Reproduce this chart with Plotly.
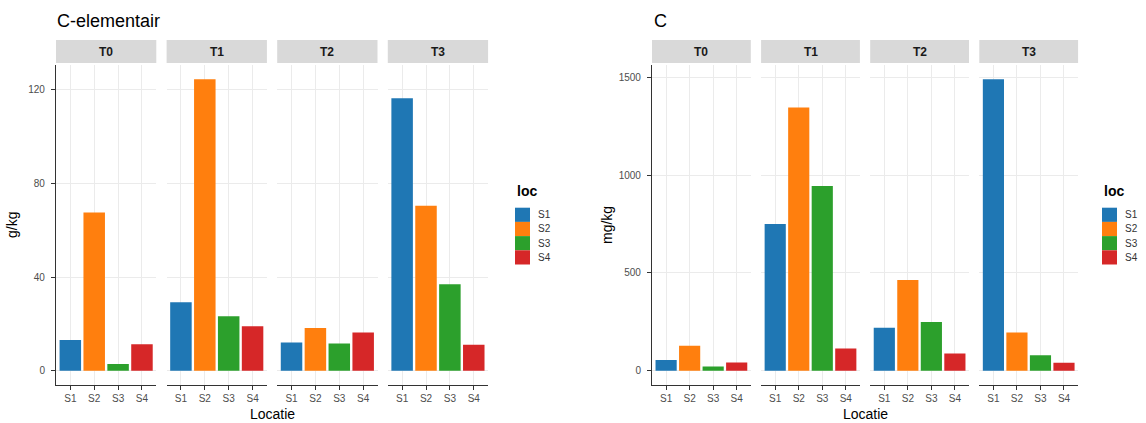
import plotly.graph_objects as go

# ---- data -----------------------------------------------------------------
times = ["T0", "T1", "T2", "T3"]
locs = ["S1", "S2", "S3", "S4"]
loc_colors = ["#1F77B4", "#FF7F0E", "#2CA02C", "#D62728"]

# C-elementair (g/kg), one list per location over T0..T3
celem_s1 = [13.2, 29.3, 12.1, 116.4]
celem_s2 = [67.6, 124.6, 18.3, 70.5]
celem_s3 = [2.9, 23.3, 11.7, 37.0]
celem_s4 = [11.4, 19.0, 16.4, 11.1]

# C (mg/kg), one list per location over T0..T3
c_s1 = [55, 750, 220, 1490]
c_s2 = [128, 1345, 464, 196]
c_s3 = [22, 944, 249, 80]
c_s4 = [43, 114, 89, 41]

celem_ticks = [0, 40, 80, 120]
c_ticks = [0, 500, 1000, 1500]

# ---- page geometry (pixels) ------------------------------------------------
W, H = 1146, 423
FONT = "Liberation Sans, Arial, Helvetica, sans-serif"


def fx(px):
    return px / W


def fy(py):
    return 1 - py / H


PANEL_TOP, PANEL_BOTTOM = 64.6, 385.4
STRIP_TOP, STRIP_BOTTOM = 40.0, 63.0

charts = [
    dict(title="C-elementair", unit="g/kg", series=[celem_s1, celem_s2, celem_s3, celem_s4],
         ticks=celem_ticks, left=56.0, width=100.3, gap=10.3, title_x=55, ytitle_x=12,
         leg_x=515),
    dict(title="C", unit="mg/kg", series=[c_s1, c_s2, c_s3, c_s4],
         ticks=c_ticks, left=652.0, width=98.8, gap=10.3, title_x=652, ytitle_x=607,
         leg_x=1102),
]

fig = go.Figure()
layout = dict(
    width=W, height=H,
    margin=dict(l=0, r=0, t=0, b=0),
    paper_bgcolor="white", plot_bgcolor="white",
    showlegend=False,
    bargap=0.1,
    font=dict(family=FONT, color="#4D4D4D"),
)
shapes = []
annotations = []

axis_no = 0
for ci, ch in enumerate(charts):
    ykey = "yaxis" if ci == 0 else "yaxis%d" % (ci + 1)
    yref = "y" if ci == 0 else "y%d" % (ci + 1)
    vmax = max(max(s) for s in ch["series"])
    pad = vmax * 0.05
    first_x = None
    for ti, t in enumerate(times):
        axis_no += 1
        xkey = "xaxis" if axis_no == 1 else "xaxis%d" % axis_no
        xref = "x" if axis_no == 1 else "x%d" % axis_no
        if first_x is None:
            first_x = xref
        x0 = ch["left"] + ti * (ch["width"] + ch["gap"])
        x1 = x0 + ch["width"]
        vals = [s[ti] for s in ch["series"]]
        fig.add_trace(go.Bar(
            x=locs, y=vals, width=0.9,
            marker=dict(color=loc_colors, line=dict(width=0)),
            xaxis=xref, yaxis=yref, name=t,
            hovertemplate="%{x}: %{y}<extra>" + t + "</extra>",
        ))
        layout[xkey] = dict(
            domain=[fx(x0), fx(x1)], anchor=yref,
            type="category", categoryorder="array", categoryarray=locs,
            range=[-0.6, 3.6],
            showline=True, linecolor="#333333", linewidth=1.1,
            ticks="outside", ticklen=4, tickcolor="#333333", tickwidth=1,
            tickfont=dict(size=10, color="#4D4D4D", family=FONT),
            showgrid=True, gridcolor="#EBEBEB", gridwidth=1,
            zeroline=False, fixedrange=True,
        )
        # facet strip
        shapes.append(dict(type="rect", xref="paper", yref="paper",
                           x0=fx(x0), x1=fx(x1), y0=fy(STRIP_BOTTOM), y1=fy(STRIP_TOP),
                           fillcolor="#D9D9D9", line=dict(width=0), layer="below"))
        annotations.append(dict(text="<b>%s</b>" % t, xref="paper", yref="paper",
                                x=fx((x0 + x1) / 2), y=fy((STRIP_TOP + STRIP_BOTTOM) / 2),
                                xanchor="center", yanchor="middle", showarrow=False,
                                font=dict(size=12, color="#1A1A1A", family=FONT)))
    layout[ykey] = dict(
        domain=[fy(PANEL_BOTTOM), fy(PANEL_TOP)], anchor=first_x,
        range=[-pad, vmax + pad],
        tickmode="array", tickvals=ch["ticks"],
        showline=True, linecolor="#333333", linewidth=1.1,
        ticks="outside", ticklen=4, tickcolor="#333333", tickwidth=1,
        ticklabelstandoff=4,
        tickfont=dict(size=10, color="#4D4D4D", family=FONT),
        showgrid=True, gridcolor="#EBEBEB", gridwidth=1,
        zeroline=False, fixedrange=True,
    )

    right_edge = ch["left"] + 4 * ch["width"] + 3 * ch["gap"]
    # chart title
    annotations.append(dict(text=ch["title"], xref="paper", yref="paper",
                            x=fx(ch["title_x"]), y=fy(21), xanchor="left", yanchor="middle",
                            showarrow=False, font=dict(size=18, color="#000000", family=FONT)))
    # axis titles
    annotations.append(dict(text="Locatie", xref="paper", yref="paper",
                            x=fx((ch["left"] + right_edge) / 2), y=fy(414),
                            xanchor="center", yanchor="middle", showarrow=False,
                            font=dict(size=14, color="#000000", family=FONT)))
    annotations.append(dict(text=ch["unit"], xref="paper", yref="paper",
                            x=fx(ch["ytitle_x"]), y=fy((PANEL_TOP + PANEL_BOTTOM) / 2),
                            xanchor="center", yanchor="middle", textangle=-90, showarrow=False,
                            font=dict(size=14, color="#000000", family=FONT)))
    # legend
    lx = ch["leg_x"]
    annotations.append(dict(text="<b>loc</b>", xref="paper", yref="paper",
                            x=fx(lx), y=fy(191), xanchor="left", yanchor="middle",
                            showarrow=False, font=dict(size=14, color="#000000", family=FONT)))
    key_h = 14.2
    for j, loc in enumerate(locs):
        ky0 = 207.7 + j * key_h
        shapes.append(dict(type="rect", xref="paper", yref="paper",
                           x0=fx(lx), x1=fx(lx + 15), y0=fy(ky0 + key_h), y1=fy(ky0),
                           fillcolor=loc_colors[j], line=dict(width=0)))
        annotations.append(dict(text=loc, xref="paper", yref="paper",
                                x=fx(lx + 21), y=fy(ky0 + key_h / 2), xanchor="left",
                                yanchor="middle", showarrow=False,
                                font=dict(size=10, color="#333333", family=FONT)))

layout["shapes"] = shapes
layout["annotations"] = annotations
fig.update_layout(**layout)
fig.write_html("out.html")
